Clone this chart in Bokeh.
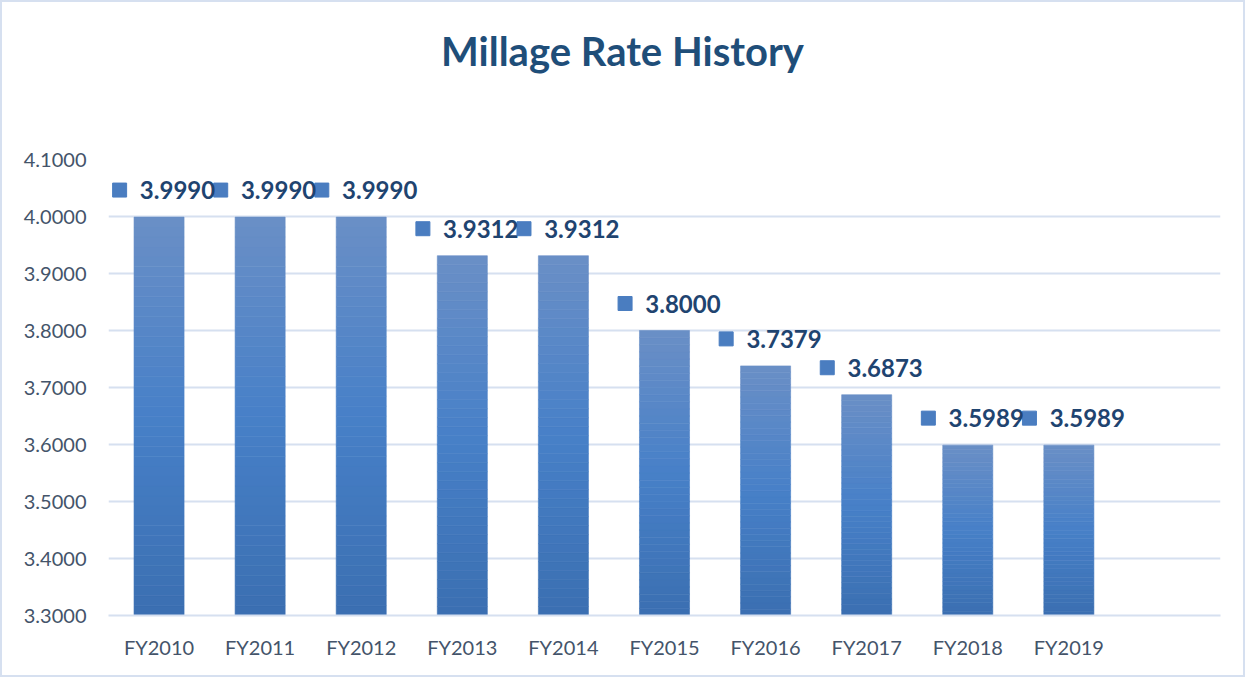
from bokeh.plotting import figure
from bokeh.models import Range1d, FixedTicker, NumeralTickFormatter, ColumnDataSource, Div
from bokeh.layouts import column
from bokeh.core.properties import value
from bokeh.embed import file_html
from bokeh.resources import INLINE

categories = ["FY2010", "FY2011", "FY2012", "FY2013", "FY2014",
              "FY2015", "FY2016", "FY2017", "FY2018", "FY2019"]
rates = [3.9990, 3.9990, 3.9990, 3.9312, 3.9312, 3.8000, 3.7379, 3.6873, 3.5989, 3.5989]
labels = ["3.9990", "3.9990", "3.9990", "3.9312", "3.9312",
          "3.8000", "3.7379", "3.6873", "3.5989", "3.5989"]
y_ticks = [3.3, 3.4, 3.5, 3.6, 3.7, 3.8, 3.9, 4.0, 4.1]
title_text = "Millage Rate History"

Y_MIN, Y_MAX = 3.3, 4.1
X_MIN, X_MAX = -0.5, 10.5
FONT = "Lato"

W = 1231
TITLE_H = 90
H = 573
FRAME_H = 456

title = Div(text=('<div style="width:%dpx;height:%dpx;line-height:88px;text-align:center;'
                  'font-family:Lato;font-size:40px;font-weight:bold;color:#1F4E79;">%s</div>'
                  % (W, TITLE_H, title_text)),
            width=W, height=TITLE_H, styles={"background-color": "white"})

p = figure(width=W, height=H, output_backend="svg", toolbar_location=None,
           x_range=Range1d(X_MIN, X_MAX), y_range=Range1d(Y_MIN, Y_MAX),
           min_border_left=106, min_border_right=13, min_border_top=57, min_border_bottom=60)
p.outline_line_color = None
p.background_fill_color = "white"
p.border_fill_color = "white"

px_per_y = FRAME_H / (Y_MAX - Y_MIN)

# gradient bars built from slices of each bar
def lerp(a, b, t):
    return tuple(int(round(a[k] + (b[k] - a[k]) * t)) for k in range(3))

top_c, mid_c, bot_c = (106, 143, 198), (71, 128, 200), (59, 111, 177)
N = 40
xs, bots, tops, cols = [], [], [], []
for i, v in enumerate(rates):
    for j in range(N):
        b = Y_MIN + (v - Y_MIN) * j / N
        t = Y_MIN + (v - Y_MIN) * (j + 1) / N
        f = 1 - (j + 0.5) / N  # 0 at top, 1 at bottom
        if f < 0.5:
            c = lerp(top_c, mid_c, f / 0.5)
        else:
            c = lerp(mid_c, bot_c, (f - 0.5) / 0.5)
        xs.append(i); bots.append(b); tops.append(t)
        cols.append("#%02x%02x%02x" % c)
p.vbar(x=xs, bottom=bots, top=tops, width=0.495, fill_color=cols, line_color=cols, line_width=0.6)

# data labels
lab_y = [v + 27 / px_per_y for v in rates]
src = ColumnDataSource(dict(x=list(range(len(rates))), y=lab_y, sq_x=[i - 0.39 for i in range(len(rates))],
                            tx=[i - 0.19 for i in range(len(rates))], label=labels))
p.scatter(x="sq_x", y="y", source=src, marker="square", size=14,
          fill_color="#4A7DC0", line_color="#4A7DC0")
p.text(x="tx", y="y", text="label", source=src, text_font=value(FONT),
       text_font_size="24px", text_font_style="bold", text_color="#1F4470",
       text_baseline="middle", text_align="left")

# axes and grid
p.yaxis.ticker = FixedTicker(ticks=y_ticks)
p.yaxis.formatter = NumeralTickFormatter(format="0.0000")
p.yaxis.axis_line_color = None
p.yaxis.major_tick_line_color = None
p.yaxis.minor_tick_line_color = None
p.yaxis.major_label_text_font = FONT
p.yaxis.major_label_text_font_size = "20px"
p.yaxis.major_label_text_color = "#44546A"
p.yaxis.major_label_standoff = 16

p.xaxis.ticker = FixedTicker(ticks=list(range(len(categories))))
p.xaxis.major_label_overrides = {i: c for i, c in enumerate(categories)}
p.xaxis.axis_line_color = "#D6E0F0"
p.xaxis.axis_line_width = 2
p.xaxis.major_tick_line_color = None
p.xaxis.minor_tick_line_color = None
p.xaxis.major_label_text_font = FONT
p.xaxis.major_label_text_font_size = "20px"
p.xaxis.major_label_text_color = "#44546A"
p.xaxis.major_label_standoff = 13

p.xgrid.grid_line_color = None
p.ygrid.grid_line_color = "#D6E0F0"
p.ygrid.grid_line_width = 2

layout = column(title, p, spacing=0, styles={"border": "2px solid #D6E0F0"})

open("out.html", "w").write(file_html(layout, INLINE))
